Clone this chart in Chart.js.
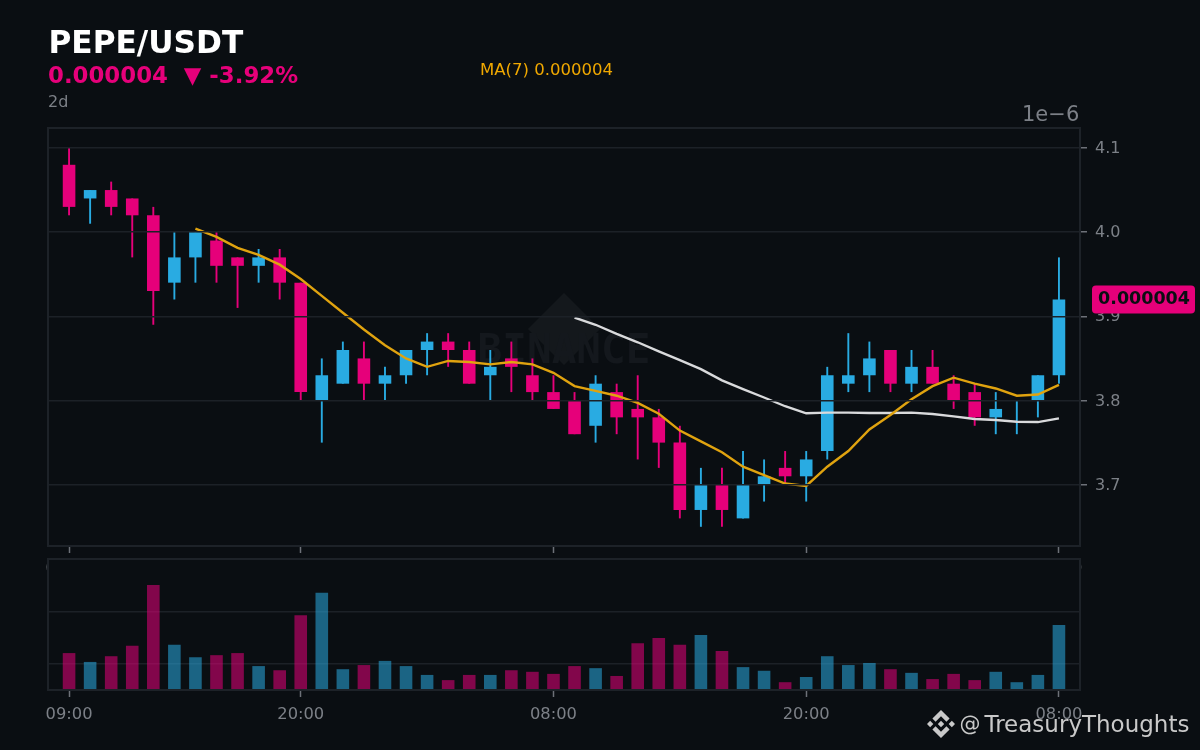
<!DOCTYPE html>
<html>
<head>
<meta charset="utf-8">
<title>PEPE/USDT</title>
<script src="https://cdn.jsdelivr.net/npm/chart.js@4/dist/chart.umd.min.js"></script>
<style>
  html, body { margin: 0; padding: 0; background: #0a0e12; width: 1200px; height: 750px; overflow: hidden; }
  canvas { position: absolute; left: 0; top: 0; }
  #priceChart { z-index: 1; }
  #volumeChart { z-index: 2; }
  .label { position: absolute; z-index: 3; white-space: pre; font-family: "DejaVu Sans", sans-serif; line-height: 1; }
  #title { left: 48.5px; top: 26.5px; font-size: 31.2px; font-weight: bold; color: #ffffff; }
  #price { left: 48px; top: 64px; font-size: 22.85px; font-weight: bold; color: #e6007a; }
  #period { left: 48px; top: 94px; font-size: 16px; color: #7c8087; }
  #maLabel { left: 480px; top: 62px; font-size: 16.55px; color: #f0a800; }
  #offset { left: 1022px; top: 104px; font-size: 21px; color: #7c8087; }
  #handleAt { left: 959.5px; top: 714px; font-size: 21px; color: #c9c9c9; }
  #handle { left: 984.5px; top: 712.5px; font-size: 23px; color: #c9c9c9; }
  #logo { position: absolute; z-index: 3; left: 927px; top: 710px; width: 28px; height: 28px; }
</style>
</head>
<body>
<canvas id="priceChart" width="1200" height="750"></canvas>
<canvas id="volumeChart" width="1200" height="750"></canvas>

<div class="label" id="title">PEPE/USDT</div>
<div class="label" id="price">0.000004  ▼ -3.92%</div>
<div class="label" id="period">2d</div>
<div class="label" id="maLabel">MA(7) 0.000004</div>
<div class="label" id="offset">1e−6</div>
<div class="label" id="handleAt">@</div>
<div class="label" id="handle">TreasuryThoughts</div>
<svg id="logo" viewBox="0 0 126.61 126.61"><path fill="#c9c9c9" d="M38.73 53.2L63.3 28.63l24.6 24.6 14.3-14.3L63.3 0 24.43 38.9z M0 63.3l14.3-14.3 14.3 14.3-14.3 14.3z M38.73 73.41l24.57 24.57 24.6-24.6 14.31 14.29-38.9 38.91-38.91-38.88-.02-.02z M97.99 63.31l14.3-14.3 14.3 14.3-14.3 14.3z M77.83 63.3L63.3 48.76 52.56 59.5l-1.24 1.24-2.54 2.54 14.52 14.53 14.53-14.54z"/></svg>

<script>
// prices are in units of 1e-6, volumes in units of the lower panel's gridlines
const candleOpen = [4.08,4.04,4.05,4.04,4.02,3.94,3.97,3.99,3.97,3.96,3.97,3.94,3.80,3.82,3.85,3.82,3.83,3.86,3.87,3.86,3.83,3.85,3.83,3.81,3.80,3.77,3.81,3.79,3.78,3.75,3.67,3.70,3.66,3.70,3.72,3.71,3.74,3.82,3.83,3.86,3.82,3.84,3.82,3.81,3.78,3.79,3.80,3.83];
const candleHigh = [4.10,4.05,4.06,4.04,4.03,4.00,4.00,4.00,3.97,3.98,3.98,3.94,3.85,3.87,3.87,3.84,3.86,3.88,3.88,3.87,3.86,3.87,3.85,3.83,3.81,3.83,3.82,3.83,3.79,3.77,3.72,3.72,3.74,3.73,3.74,3.74,3.84,3.88,3.87,3.86,3.86,3.86,3.83,3.82,3.81,3.80,3.83,3.97];
const candleLow = [4.02,4.01,4.02,3.97,3.89,3.92,3.94,3.94,3.91,3.94,3.92,3.80,3.75,3.82,3.80,3.80,3.82,3.83,3.84,3.82,3.80,3.81,3.80,3.79,3.76,3.75,3.76,3.73,3.72,3.66,3.65,3.65,3.66,3.68,3.70,3.68,3.73,3.81,3.81,3.81,3.81,3.82,3.79,3.77,3.76,3.76,3.78,3.82];
const candleClose = [4.03,4.05,4.03,4.02,3.93,3.97,4.00,3.96,3.96,3.97,3.94,3.81,3.83,3.86,3.82,3.83,3.86,3.87,3.86,3.82,3.84,3.84,3.81,3.79,3.76,3.82,3.78,3.78,3.75,3.67,3.70,3.67,3.70,3.71,3.71,3.73,3.83,3.83,3.85,3.82,3.84,3.82,3.80,3.78,3.79,3.79,3.83,3.92];
const volumes = [1.21,1.04,1.15,1.35,2.52,1.37,1.13,1.17,1.21,0.96,0.88,1.94,2.37,0.90,0.98,1.06,0.96,0.79,0.69,0.79,0.79,0.88,0.85,0.81,0.96,0.92,0.77,1.40,1.50,1.37,1.56,1.25,0.94,0.87,0.65,0.75,1.15,0.98,1.02,0.90,0.83,0.71,0.81,0.69,0.85,0.65,0.79,1.75];
const ma7Start = 6;
const ma7 = [4.0043,3.9943,3.9814,3.9729,3.9614,3.9443,3.9243,3.9043,3.8843,3.8657,3.85,3.84,3.847,3.8457,3.8429,3.8457,3.8429,3.8329,3.8171,3.8114,3.8057,3.7971,3.7843,3.7643,3.7514,3.7386,3.7214,3.7114,3.7014,3.6986,3.7214,3.74,3.7657,3.7829,3.8014,3.8171,3.8271,3.82,3.8143,3.8057,3.8071,3.8186];
const ma25Start = 24;
const ma25 = [3.8984,3.89,3.8792,3.8692,3.8584,3.848,3.8372,3.824,3.8136,3.8036,3.7932,3.7848,3.7856,3.7856,3.7852,3.7852,3.7856,3.784,3.7812,3.778,3.7768,3.7748,3.7744,3.7788];
const priceTicks = [3.7,3.8,3.9,4.0,4.1];
const volumeTicks = [1,2];
const timePositions = [0,11,23,35,47];
const timeLabels = ["09:00","20:00","08:00","20:00","08:00"];
const lastPriceLabel = "0.000004";

const BG = "#0a0e12";
const UP = "#29abe2";
const DOWN = "#e6007a";
const UP_DIM = "rgba(41,171,226,0.55)";
const DOWN_DIM = "rgba(230,0,122,0.55)";
const GRID = "#1c2127";
const SPINE = "#1d2228";
const TICK = "#6d7178";
const TEXT = "#7c8087";

Chart.defaults.animation = false;
Chart.defaults.font.family = '"DejaVu Sans", sans-serif';
Chart.defaults.font.size = 16;
Chart.defaults.color = TEXT;

const isUp = candleOpen.map((o, i) => candleClose[i] >= o);
const candleColors = isUp.map(u => (u ? UP : DOWN));

function series(values, start) {
  return values.map((y, i) => ({ x: i + start, y }));
}

function xScale(labelPadding) {
  return {
    type: "linear",
    min: -1,
    max: 48,
    offset: false,
    afterBuildTicks: s => { s.ticks = timePositions.map(value => ({ value })); },
    grid: { offset: false, drawOnChartArea: false, drawTicks: true, tickLength: 7, tickColor: TICK, tickWidth: 1.5 },
    border: { display: false },
    ticks: {
      autoSkip: false,
      maxRotation: 0,
      padding: labelPadding,
      font: { size: 16.3 },
      callback: v => timeLabels[timePositions.indexOf(v)]
    }
  };
}

// spines all round, and the panel background so the lower chart hides what lies under it
const panel = {
  id: "panel",
  beforeDraw(chart) {
    const { ctx, chartArea: a } = chart;
    ctx.save();
    ctx.fillStyle = BG;
    ctx.fillRect(a.left, a.top, a.right - a.left, a.bottom - a.top);
    ctx.restore();
  },
  afterDraw(chart) {
    const { ctx, chartArea: a } = chart;
    ctx.save();
    ctx.strokeStyle = SPINE;
    ctx.lineWidth = 2;
    ctx.strokeRect(a.left, a.top, a.right - a.left, a.bottom - a.top);
    ctx.restore();
  }
};

const watermark = {
  id: "watermark",
  beforeDatasetsDraw(chart) {
    const { ctx } = chart;
    ctx.save();
    ctx.fillStyle = "#14181c";
    ctx.beginPath();
    ctx.moveTo(564, 293);
    ctx.lineTo(600, 329);
    ctx.lineTo(564, 365);
    ctx.lineTo(528, 329);
    ctx.closePath();
    ctx.fill();
    ctx.fillStyle = "#14181d";
    ctx.font = 'bold 41px "DejaVu Sans Mono", monospace';
    ctx.textAlign = "center";
    ctx.textBaseline = "middle";
    ctx.fillText("BINANCE", 564, 352);
    ctx.restore();
  }
};

const lastPriceTag = {
  id: "lastPriceTag",
  afterDraw(chart) {
    const { ctx } = chart;
    const y = chart.scales.y.getPixelForValue(candleClose[candleClose.length - 1]);
    ctx.save();
    ctx.fillStyle = DOWN;
    ctx.beginPath();
    ctx.roundRect(1092, y - 14, 103, 28, 4);
    ctx.fill();
    ctx.fillStyle = BG;
    ctx.font = 'bold 17.5px "DejaVu Sans", sans-serif';
    ctx.textAlign = "center";
    ctx.textBaseline = "middle";
    ctx.fillText(lastPriceLabel, 1144, y);
    ctx.restore();
  }
};

new Chart(document.getElementById("priceChart"), {
  type: "bar",
  data: {
    datasets: [
      {
        label: "MA(7)",
        type: "line",
        data: series(ma7, ma7Start),
        borderColor: "#e0a30f",
        borderWidth: 2.4,
        pointRadius: 0,
        tension: 0,
        order: 1
      },
      {
        label: "MA(25)",
        type: "line",
        data: series(ma25, ma25Start),
        borderColor: "#d9dadc",
        borderWidth: 2.4,
        pointRadius: 0,
        tension: 0,
        order: 2
      },
      {
        label: "body",
        data: candleOpen.map((o, i) => ({ x: i, y: [o, candleClose[i]] })),
        backgroundColor: candleColors,
        barThickness: 12.6,
        grouped: false,
        inflateAmount: 0,
        order: 3
      },
      {
        label: "wick",
        data: candleLow.map((l, i) => ({ x: i, y: [l, candleHigh[i]] })),
        backgroundColor: candleColors,
        barThickness: 1.9,
        grouped: false,
        inflateAmount: 0,
        order: 4
      }
    ]
  },
  options: {
    responsive: false,
    devicePixelRatio: 1,
    layout: { padding: { left: 48, top: 128, right: 0, bottom: 0 } },
    plugins: { legend: { display: false }, tooltip: { enabled: false } },
    scales: {
      x: Object.assign(xScale(6), {
        afterFit: s => { s.height = 750 - 546; }
      }),
      y: {
        position: "right",
        min: 3.6272,
        max: 4.1237,
        afterBuildTicks: s => { s.ticks = priceTicks.map(value => ({ value })); },
        afterFit: s => { s.width = 120; },
        grid: { color: GRID, lineWidth: 1.5, z: 1, tickLength: 7, tickColor: TICK, tickWidth: 1.5 },
        border: { display: false },
        ticks: { padding: 8, labelOffset: 1, callback: v => v.toFixed(1) }
      }
    }
  },
  plugins: [panel, watermark, lastPriceTag]
});

new Chart(document.getElementById("volumeChart"), {
  type: "bar",
  data: {
    datasets: [
      {
        label: "volume",
        data: series(volumes, 0),
        backgroundColor: isUp.map(u => (u ? UP_DIM : DOWN_DIM)),
        barThickness: 12.6,
        inflateAmount: 0
      }
    ]
  },
  options: {
    responsive: false,
    devicePixelRatio: 1,
    layout: { padding: { left: 48, top: 559, right: 0, bottom: 0 } },
    plugins: { legend: { display: false }, tooltip: { enabled: false } },
    scales: {
      x: Object.assign(xScale(8), {
        afterFit: s => { s.height = 750 - 690; }
      }),
      y: {
        position: "right",
        min: 0.5,
        max: 3.02,
        afterBuildTicks: s => { s.ticks = volumeTicks.map(value => ({ value })); },
        afterFit: s => { s.width = 120; },
        grid: { color: GRID, lineWidth: 1.5, drawTicks: false },
        border: { display: false },
        ticks: { display: false }
      }
    }
  },
  plugins: [panel]
});
</script>
</body>
</html>
